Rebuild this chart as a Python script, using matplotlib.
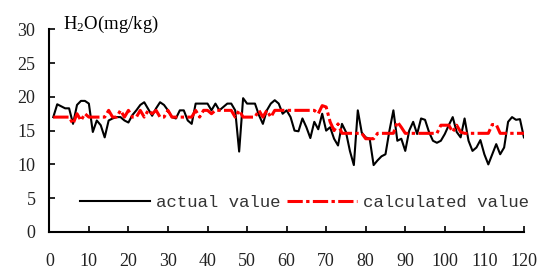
import matplotlib
matplotlib.use("Agg")
import matplotlib.pyplot as plt
import numpy as np

# Données
x = np.arange(1, 121)
actual = [17.0, 18.9, 18.6, 18.3, 18.3, 16.0, 18.8, 19.4, 19.4, 19.0,
          14.8, 16.5, 15.8, 14.0, 16.5, 16.8, 17.0, 17.0, 16.5, 16.2,
          17.3, 18.0, 18.8, 19.2, 18.2, 17.2, 18.3, 19.2, 18.8, 18.0,
          17.0, 16.8, 18.0, 18.0, 16.5, 16.0, 19.0, 19.0, 19.0, 19.0,
          18.0, 19.0, 18.0, 18.5, 19.0, 19.0, 18.0, 11.9, 19.8, 19.0,
          19.0, 19.0, 17.3, 16.0, 18.0, 19.0, 19.5, 19.0, 17.5, 18.0,
          17.0, 15.0, 14.9, 16.8, 15.5, 13.9, 16.3, 15.2, 17.5, 15.0,
          15.5, 13.8, 12.8, 16.0, 14.8, 12.0, 9.9, 18.0, 14.7, 14.0,
          13.8, 9.9, 10.6, 11.2, 11.5, 15.0, 18.0, 13.5, 13.8, 12.0,
          15.0, 16.3, 14.5, 16.8, 16.6, 14.8, 13.5, 13.2, 13.5, 14.5,
          15.8, 17.0, 14.8, 14.0, 16.8, 13.5, 12.0, 12.5, 13.6, 11.5,
          10.0, 11.5, 13.0, 11.5, 12.5, 16.3, 17.0, 16.6, 16.7, 14.0]
calc = [17.0, 17.0, 17.0, 17.0, 17.0, 16.0, 17.5, 16.5, 17.5, 17.0,
        17.0, 17.0, 17.0, 17.0, 18.0, 17.0, 17.0, 18.0, 17.0, 18.0,
        17.0, 17.0, 18.0, 17.0, 18.0, 17.5, 18.0, 17.0, 17.0, 18.0,
        17.0, 17.0, 17.0, 17.0, 17.0, 17.0, 18.0, 17.0, 18.0, 18.0,
        17.5, 18.0, 18.0, 18.0, 18.0, 18.0, 17.0, 18.0, 17.0, 17.0,
        17.0, 17.0, 18.0, 17.0, 18.0, 17.0, 18.0, 18.0, 18.0, 18.0,
        18.0, 18.0, 18.0, 18.0, 18.0, 18.0, 18.0, 17.5, 18.7, 18.5,
        16.3, 15.0, 16.0, 14.6, 14.6, 14.6, 14.6, 14.6, 14.6, 13.8,
        13.8, 13.8, 14.6, 14.6, 14.6, 14.6, 14.6, 16.3, 15.5, 14.6,
        14.6, 14.6, 14.6, 14.6, 14.6, 14.6, 14.6, 14.6, 15.8, 15.8,
        15.8, 14.8, 15.8, 14.8, 14.6, 14.6, 14.6, 14.6, 14.6, 14.6,
        14.6, 15.9, 15.9, 14.6, 14.6, 14.6, 14.6, 14.6, 14.6, 14.6]
xticks = np.arange(0, 121, 10)
yticks = np.arange(0, 31, 5)

plt.rcParams["mathtext.fontset"] = "custom"
plt.rcParams["mathtext.rm"] = "Liberation Serif"
plt.rcParams["mathtext.default"] = "regular"

fig = plt.figure(figsize=(5.39, 2.71), dpi=100)
ax = fig.add_axes([0.0915, 0.144, 0.8805, 0.748])

ax.plot(x, actual, color="black", lw=1.5, label="actual value")
rouge, = ax.plot(x, calc, color="red", lw=2.2, label="calculated value")
rouge.set_dashes([5.0, 1.1, 1.1, 1.1])

ax.set_xlim(0, 120)
ax.set_ylim(0, 30)
ax.set_xticks(xticks)
ax.set_yticks(yticks)
ax.spines["top"].set_visible(False)
ax.spines["right"].set_visible(False)
ax.spines["left"].set_linewidth(1.5)
ax.spines["bottom"].set_linewidth(1.5)
ax.tick_params(axis="both", direction="in", length=4, width=1.2,
               labelsize=13, colors="black", labelcolor="#222222")
ax.tick_params(axis="x", pad=15)
ax.tick_params(axis="y", pad=10)
for lab in ax.get_xticklabels() + ax.get_yticklabels():
    lab.set_fontfamily("Liberation Serif")

ax.text(0.029, 1.0, r"H$_2$O(mg/kg)", transform=ax.transAxes,
        fontsize=13.5, family="Liberation Serif", va="baseline", ha="left")

ax.legend(loc="center left", bbox_to_anchor=(0.065, 0.147), ncol=2,
          frameon=False, borderpad=0, borderaxespad=0, handlelength=4.0,
          handletextpad=0.35, columnspacing=0.4,
          prop={"family": "Liberation Mono", "size": 12.5}, labelcolor="#333333")

fig.savefig("out.png", dpi=100)
